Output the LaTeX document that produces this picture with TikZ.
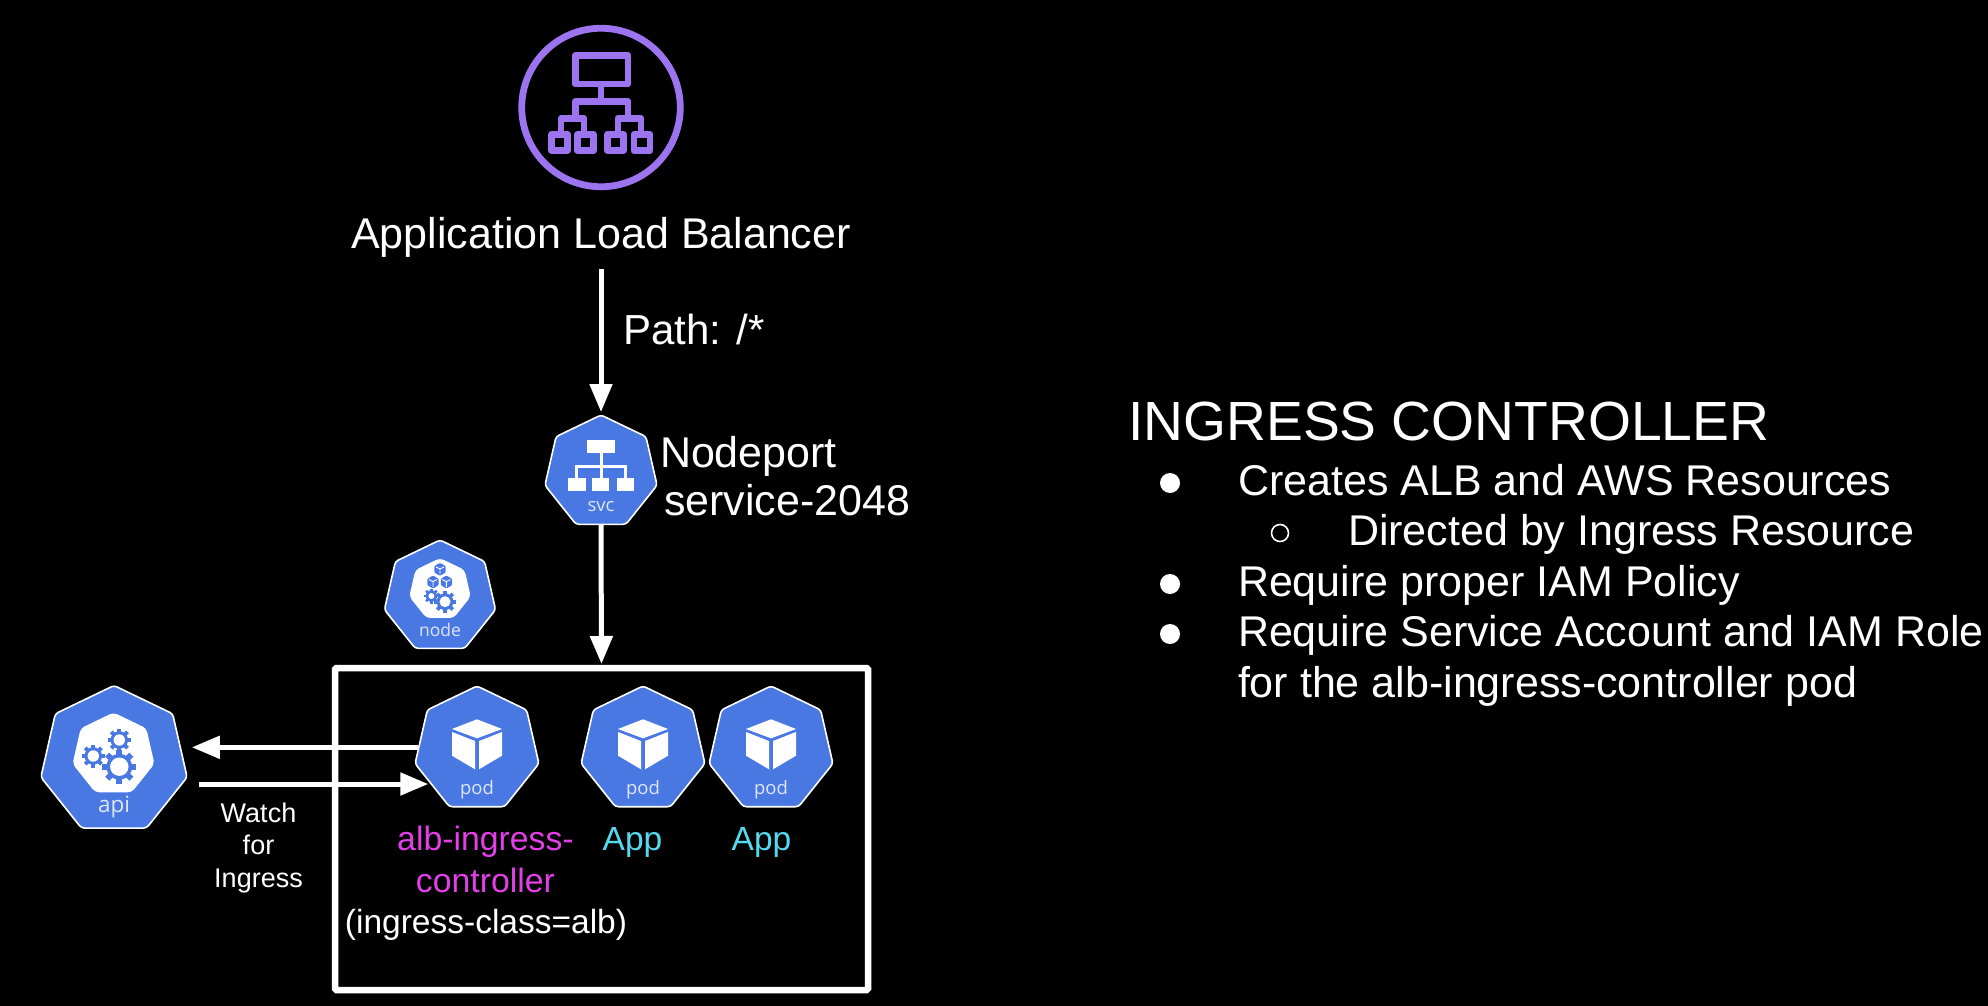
\documentclass[tikz,border=0pt]{standalone}
\usepackage{fontspec}
\setmainfont{Liberation Sans}
\newfontfamily\iconfont{Open Sans}
\usetikzlibrary{shapes.geometric,arrows.meta}
\definecolor{kblue}{HTML}{4A78E2}
\definecolor{albpurple}{HTML}{9C74F0}
\definecolor{ctlmagenta}{HTML}{E23FE6}
\definecolor{appcyan}{HTML}{55D9EE}
\definecolor{icontext}{HTML}{DDE6FA}
\tikzset{
  flow/.style={draw=white,line width=5pt,-{Triangle[length=28pt,width=22pt]}},
  hept/.style={regular polygon,regular polygon sides=7,inner sep=0pt,outer sep=0pt,
    fill=kblue,draw=white,line width=1.6pt,rounded corners=3pt},
  innerhept/.style={regular polygon,regular polygon sides=7,inner sep=0pt,outer sep=0pt,
    fill=white,draw=none,rounded corners=4pt},
  big/.style={text=white,inner sep=0pt,outer sep=0pt,font=\fontsize{43}{48}\selectfont},
  mid/.style={inner sep=0pt,outer sep=0pt,font=\fontsize{33.8}{42}\selectfont},
  small/.style={text=white,inner sep=0pt,outer sep=0pt,font=\fontsize{27}{32.5}\selectfont},
  icontag/.style={text=icontext,inner sep=0pt,outer sep=0pt},
  albline/.style={draw=albpurple,line width=6.8pt,line join=round},
  svcline/.style={draw=white,line width=3pt},
  hollowdot/.style={circle,draw=white,line width=1.6pt,inner sep=0pt,minimum size=17pt},
  soliddot/.style={circle,fill=white,inner sep=0pt,minimum size=20pt},
}
% pod cube, relative to the pod's centre
\newcommand{\cubeicon}[2]{%
  \begin{scope}[shift={(#1,#2)}]
    \fill[white] (-25,-21) -- (0,-30.7) -- (25,-21) -- (0,-11.7) -- cycle;
    \fill[white] (-25,-18) -- (-2,-9) -- (-2,19.3) -- (-25,5.7) -- cycle;
    \fill[white] (25,-18) -- (2,-9) -- (2,19.3) -- (25,5.7) -- cycle;
  \end{scope}}
% small blue cube of the node icon
\newcommand{\minicube}[2]{%
  \begin{scope}[shift={(#1,#2)}]
    \fill[kblue,rounded corners=1pt] (0,-6.5) -- (5.6,-3.2) -- (5.6,3.2) -- (0,6.5) -- (-5.6,3.2) -- (-5.6,-3.2) -- cycle;
    \draw[white,line width=.9pt] (-4,-2.4) -- (0,-.4) -- (4,-2.4) (0,-.4) -- (0,5);
  \end{scope}}
% gear: centre, outer radius, white hole radius
\newcommand{\gearicon}[4]{%
  \begin{scope}[shift={(#1,#2)}]
    \foreach \a in {0,45,...,315}{
      \fill[kblue,rotate=\a] (-.17*#3,0) rectangle (.17*#3,-#3);
    }
    \fill[kblue] (0,0) circle[radius=.76*#3];
    \fill[white] (0,0) circle[radius=#4];
  \end{scope}}
\begin{document}
\begin{tikzpicture}[x=1pt,y=-1pt]
\useasboundingbox (0,0) rectangle (1988,1006);
\fill[black] (0,0) rectangle (1988,1006);

% ALB icon
\node[circle,draw=albpurple,line width=6.8pt,minimum size=158.5pt,inner sep=0pt] (alb) at (601,107.5) {};
\draw[albline] (575.5,55.5) rectangle (628,84);
\draw[albline] (601,84) -- (601,101.5);
\draw[albline] (575.5,118) -- (575.5,101.5) -- (628,101.5) -- (628,118);
\draw[albline] (561,134) -- (561,118.5) -- (584,118.5) -- (584,134);
\draw[albline] (618,134) -- (618,118.5) -- (641,118.5) -- (641,134);
\draw[albline] (551.5,134.5) rectangle (567.5,150.5);
\draw[albline] (577.5,134.5) rectangle (593.5,150.5);
\draw[albline] (607.5,134.5) rectangle (623.5,150.5);
\draw[albline] (634,134.5) rectangle (650,150.5);

\node[big,anchor=base] (albl) at (601,248) {Application Load Balancer};
\node[big,anchor=base west,font=\fontsize{42}{48}\selectfont] (pathl) at (623,344) {Path: /*};
\coordinate (albout) at (601,269);

% service
\node[hept,minimum size=115pt] (svc) at (601,472.5) {};
\fill[white] (587.3,440.3) rectangle (615.2,452.7);
\draw[svcline] (601,452) -- (601,479);
\draw[svcline] (576.7,478.5) -- (576.7,466.3) -- (625,466.3) -- (625,478.5);
\fill[white] (568,478.3) rectangle (585.5,491);
\fill[white] (592.4,478.3) rectangle (609.2,491);
\fill[white] (616.5,478.3) rectangle (633.5,491);
\node[icontag,anchor=base,font=\iconfont\fontsize{18.5}{19}\selectfont] (svct) at (601,511) {svc};
\node[big,anchor=base west] (nplabel) at (660,467) {Nodeport};
\node[big,anchor=base west] (splabel) at (664,515) {service-2048};

% worker node
\node[hept,minimum size=114pt] (wnode) at (440,597) {};
\node[innerhept,minimum size=63pt] (wnodein) at (440,589.6) {};
\minicube{440}{569.3}
\minicube{433}{582}
\minicube{446.4}{582}
\gearicon{431.4}{596}{7.5}{3}
\gearicon{445}{601.7}{11}{5.5}
\node[icontag,anchor=base,font=\iconfont\fontsize{17.5}{17.5}\selectfont] (wnodet) at (440,636) {node};

% node box
\node[draw=white,line width=6.5pt,rounded corners=1.5pt,minimum width=533pt,minimum height=322pt,inner sep=0pt,outer sep=0pt] (box) at (601.5,829) {};

% api server
\node[hept,minimum size=150pt] (api) at (114,760.5) {};
\node[innerhept,minimum size=84pt] (apiin) at (113.5,754.5) {};
\gearicon{93.3}{756}{11.5}{5.7}
\gearicon{119.3}{740}{11.5}{5.7}
\gearicon{119.3}{766.7}{17}{9.2}
\node[icontag,anchor=base,font=\iconfont\fontsize{22.5}{22.5}\selectfont] (apit) at (114,812.5) {api};

% pods
\node[hept,minimum size=127pt] (podA) at (477,749.5) {};
\node[hept,minimum size=127pt] (podB) at (643,749.5) {};
\node[hept,minimum size=127pt] (podC) at (771,749.5) {};
\cubeicon{477}{750}
\cubeicon{643}{750}
\cubeicon{771}{750}
\node[icontag,anchor=base,font=\iconfont\fontsize{18.5}{19}\selectfont] (podAt) at (477,794) {pod};
\node[icontag,anchor=base,font=\iconfont\fontsize{18.5}{19}\selectfont] (podBt) at (643,794) {pod};
\node[icontag,anchor=base,font=\iconfont\fontsize{18.5}{19}\selectfont] (podCt) at (771,794) {pod};

% connectors
\draw[flow,shorten >=3pt] (albout) -- (svc.north);
\draw[flow,shorten >=4pt] (svc.south) -- (box.north);
\draw[flow] ([yshift=2.2pt]podA.west) -- ([xshift=8.5pt,yshift=13.2pt]api.east);
\draw[flow] ([xshift=15.5pt,yshift=-23.5pt]api.east) -- ([xshift=10pt,yshift=-34.5pt]podA.west);

% labels
\node[small,anchor=base,align=center] (watch) at (258.5,887) {Watch\\for\\Ingress};
\node[mid,text=ctlmagenta,anchor=base,align=center] (ctl) at (485.5,892) {alb-ingress-\\controller};
\node[mid,text=white,anchor=base,font=\fontsize{33.5}{40}\selectfont] (cls) at (486,933) {(ingress-class=alb)};
\node[mid,text=appcyan,anchor=base,font=\fontsize{33.5}{40}\selectfont] (appA) at (632.5,850) {App};
\node[mid,text=appcyan,anchor=base,font=\fontsize{33.5}{40}\selectfont] (appB) at (761.5,850) {App};

% right-hand text
\node[text=white,inner sep=0pt,anchor=base west,font=\fontsize{55.2}{60}\selectfont] (title) at (1128,440) {INGRESS CONTROLLER};
\node[soliddot] (b1) at (1170,483) {};
\node[big,anchor=base west] (t1) at (1238,495) {Creates ALB and AWS Resources};
\node[hollowdot] (b2) at (1280,533) {};
\node[big,anchor=base west] (t2) at (1348,545) {Directed by Ingress Resource};
\node[soliddot] (b3) at (1170,584) {};
\node[big,anchor=base west] (t3) at (1238,596) {Require proper IAM Policy};
\node[soliddot] (b4) at (1170,634) {};
\node[big,anchor=base west] (t4) at (1238,646) {Require Service Account and IAM Role};
\node[big,anchor=base west] (t5) at (1238,697) {for the alb-ingress-controller pod};
\end{tikzpicture}
\end{document}
